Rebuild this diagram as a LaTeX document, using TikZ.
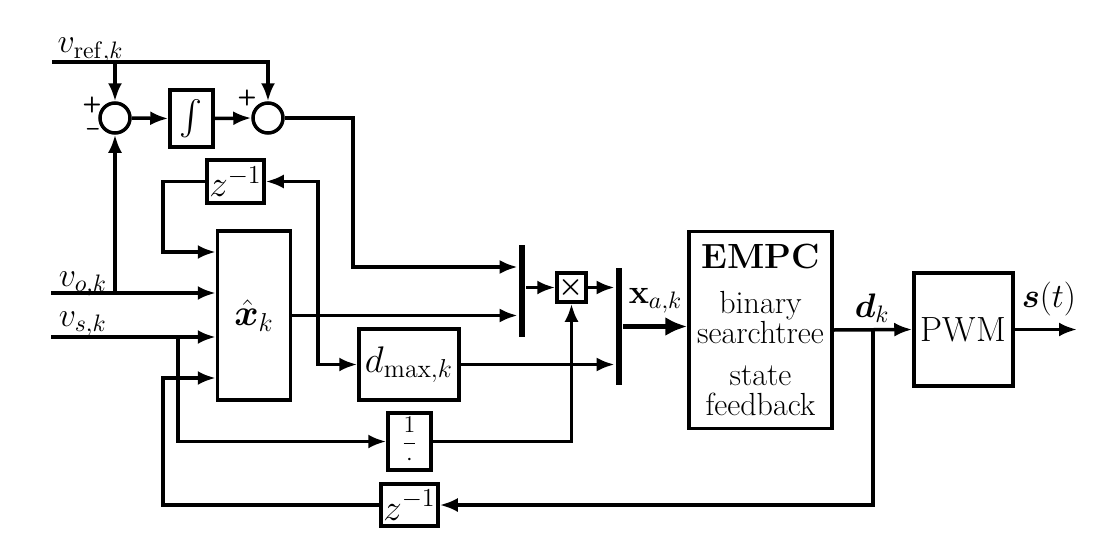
\RequirePackage{fix-cm}
\documentclass[tikz,border=0pt]{standalone}
\usepackage{amsmath,bm}
\usetikzlibrary{arrows.meta,calc}
\begin{document}
\begin{tikzpicture}[x=0.5pt,y=-0.5pt,
  line width=1.75pt,
  every node/.style={font=\fontsize{17}{19}\selectfont},
  blk/.style={draw,line width=1.75pt,inner sep=0pt,font=\fontsize{18.5}{20}\selectfont},
  sumc/.style={draw,circle,minimum size=15pt,inner sep=0pt},
  bar/.style={fill=black,inner sep=0pt,minimum width=2.6pt},
  arr/.style={-{Latex[length=9pt,width=7pt]}},
  bigarr/.style={line width=2.6pt,-{Latex[length=11pt,width=9.5pt]}},
  sign/.style={font=\fontsize{11}{12}\selectfont\sffamily\bfseries,inner sep=0pt},
  lbl/.style={inner sep=0pt,anchor=base west}
]
\useasboundingbox (0,0) rectangle (1119,546);
% inputs / output
\coordinate (vin) at (52,62);
\coordinate (voin) at (51,293);
\coordinate (vsin) at (51,337);
\coordinate (out) at (1077,329.5);
% blocks
\node[sumc] (s1) at (115,118) {};
\node[blk,minimum width=21.5pt,minimum height=28.5pt] (int) at (191.5,118.5) {$\int$};
\node[sumc] (s2) at (268,118) {};
\node[blk,minimum width=28.5pt,minimum height=21.5pt] (zt) at (235.5,181.5) {$z^{-1}$};
\node[blk,minimum width=36.5pt,minimum height=84.5pt] (xh) at (254,315.5) {$\hat{\bm{x}}_k$};
\node[blk,minimum width=50pt,minimum height=35.5pt] (dm) at (409,364.5) {$d_{\max,k}$};
\node[blk,minimum width=21.5pt,minimum height=28.5pt,font=\fontsize{12}{12}\selectfont] (inv) at (409.5,441.5) {$\dfrac{1}{\cdot}$};
\node[blk,minimum width=28.5pt,minimum height=21pt] (zb) at (409.5,505) {$z^{-1}$};
\node[bar,minimum height=46pt] (b1) at (522,291) {};
\node[blk,minimum size=14.5pt,font=\fontsize{14}{14}\selectfont] (mul) at (571.5,287.5) {$\bm{\times}$};
\node[bar,minimum height=58.5pt] (b2) at (619,326.5) {};
\node[blk,minimum width=71.5pt,minimum height=98.5pt,align=center,font=\fontsize{16}{15}\selectfont] (empc) at (760.5,330)
  {{\fontsize{17.5}{15}\selectfont\bfseries EMPC}\\[7.5pt]binary\\searchtree\\[6pt]state\\feedback};
\node[blk,minimum width=49.5pt,minimum height=56.5pt,font=\fontsize{17.5}{19}\selectfont] (pwm) at (963.5,329.5) {PWM};
% labels
\node[lbl] (lref) at (56,53) {$v_{\mathrm{ref},k}$};
\node[lbl] (lvo) at (57,286) {$v_{o,k}$};
\node[lbl] (lvs) at (57,326) {$v_{s,k}$};
\node[lbl] (lxa) at (627,303) {$\mathbf{x}_{a,k}$};
\node[lbl] (ldk) at (853,317) {$\bm{d}_k$};
\node[lbl] (lst) at (1020,307) {$\bm{s}(t)$};
\node[sign] (p1) at (92,105) {+};
\node[sign] (m1) at (93,132) {--};
\node[sign] (p2) at (247,98) {+};
% connectors
\draw[arr] (vin) -| (s2.north);
\draw[arr] (vin -| s1) -- (s1.north);
\draw[arr] (s1.east) -- (int.west);
\draw[arr] (int.east) -- (s2.west);
\coordinate (c1) at (353,267);
\draw[arr] (s2.east) -| (c1) -- (c1 -| b1.west);
\draw[arr] (voin) -- (voin -| xh.west);
\draw[arr] (voin -| s1) -- (s1.south);
\draw[arr] (vsin) -- (vsin -| xh.west);
\coordinate (c2) at (178,337);
\draw[arr] (c2) |- (inv.west);
\draw[arr] (xh.east) -- (xh.east -| b1.west);
\coordinate (c3) at (318,315.5);
\draw[arr] (c3) |- (zt.east);
\draw[arr] (c3) |- (dm.west);
\coordinate (c4) at (163,252);
\draw[arr] (zt.west) -| (c4) -- (c4 -| xh.west);
\draw[arr] (dm.east) -- (dm.east -| b2.west);
\draw[arr] (b1.east |- mul) -- (mul.west);
\draw[arr] (inv.east) -| (mul.south);
\draw[arr] (mul.east) -- (mul.east -| b2.west);
\draw[bigarr] (b2.east) -- (b2.east -| empc.west);
\draw[arr] (empc.east) -- (pwm.west);
\draw[arr] (pwm.east) -- (out);
\coordinate (c5) at (873,329.5);
\draw[arr] (c5) |- (zb.east);
\coordinate (c6) at (163,378);
\draw[arr] (zb.west) -| (c6) -- (c6 -| xh.west);
\end{tikzpicture}
\end{document}
